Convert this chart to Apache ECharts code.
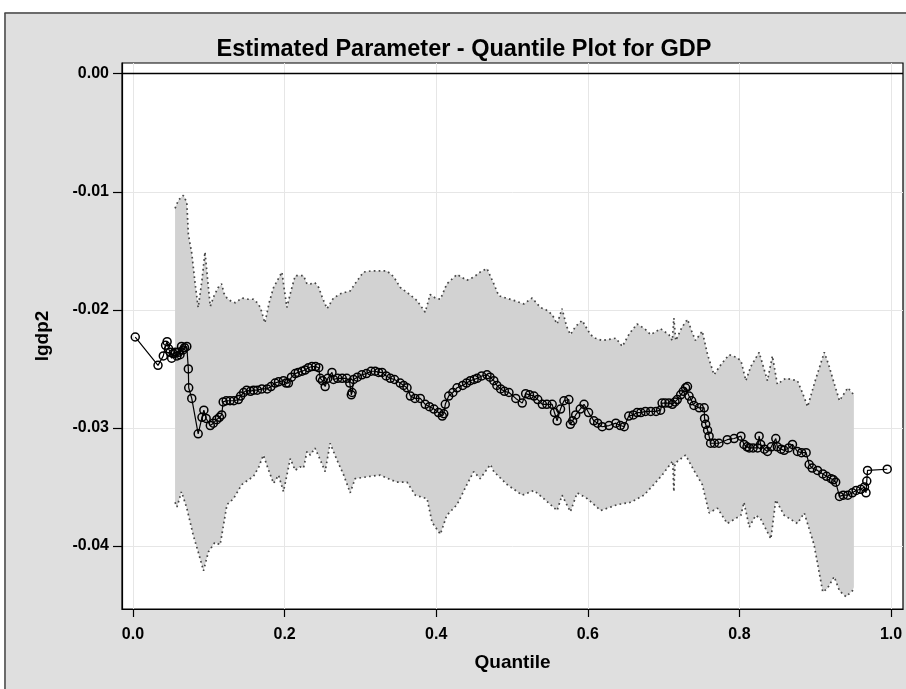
<!DOCTYPE html>
<html>
<head>
<meta charset="utf-8">
<script src="https://cdn.jsdelivr.net/npm/echarts@6/dist/echarts.min.js"></script>
<style>
html,body{margin:0;padding:0;background:#fff;}
#chart{width:906px;height:689px;}
</style>
</head>
<body>
<div id="chart"></div>
<script>
// ---- Data ----
const titleText = 'Estimated Parameter - Quantile Plot for GDP';
const xAxisTitle = 'Quantile';
const yAxisTitle = 'lgdp2';
const xTicks = [0.0, 0.2, 0.4, 0.6, 0.8, 1.0];
const yTicks = [0.00, -0.01, -0.02, -0.03, -0.04];

// Estimated parameter by quantile
const quantiles = [0.003,0.033,0.040,0.043,0.045,0.047,0.049,0.051,0.053,0.056,0.058,0.060,0.062,0.064,0.066,0.068,0.071,0.073,0.0735,0.0775,0.086,0.091,0.0935,0.0965,0.102,0.106,0.1105,0.114,0.117,0.119,0.123,0.128,0.133,0.139,0.142,0.146,0.150,0.155,0.159,0.164,0.170,0.177,0.182,0.1875,0.192,0.1985,0.202,0.205,0.209,0.214,0.218,0.223,0.227,0.2315,0.236,0.241,0.245,0.247,0.250,0.2535,0.257,0.2625,0.2645,0.270,0.276,0.282,0.286,0.288,0.289,0.291,0.296,0.302,0.308,0.314,0.3195,0.324,0.3285,0.334,0.3395,0.345,0.3525,0.357,0.3615,0.366,0.372,0.379,0.3855,0.391,0.397,0.403,0.408,0.410,0.412,0.4165,0.422,0.4275,0.435,0.440,0.445,0.450,0.454,0.460,0.467,0.471,0.476,0.480,0.485,0.490,0.496,0.505,0.5135,0.518,0.523,0.529,0.534,0.540,0.546,0.553,0.556,0.5595,0.564,0.5685,0.575,0.577,0.580,0.584,0.590,0.595,0.601,0.608,0.613,0.619,0.628,0.637,0.643,0.648,0.654,0.660,0.665,0.670,0.676,0.683,0.690,0.696,0.698,0.702,0.707,0.7115,0.715,0.718,0.7225,0.726,0.729,0.7315,0.7335,0.737,0.740,0.747,0.7535,0.754,0.7555,0.758,0.760,0.762,0.767,0.773,0.784,0.793,0.802,0.806,0.810,0.813,0.818,0.824,0.826,0.828,0.833,0.837,0.842,0.848,0.850,0.855,0.859,0.865,0.870,0.8765,0.882,0.888,0.892,0.896,0.903,0.910,0.915,0.921,0.924,0.927,0.932,0.937,0.943,0.949,0.954,0.960,0.965,0.967,0.968,0.969,0.995];
const estimates = [-0.0223,-0.0247,-0.0239,-0.0230,-0.0227,-0.0233,-0.0236,-0.0241,-0.0237,-0.0236,-0.0239,-0.0236,-0.0238,-0.0231,-0.0234,-0.0232,-0.0231,-0.0250,-0.0266,-0.0275,-0.0305,-0.0291,-0.0285,-0.0292,-0.0298,-0.0296,-0.0293,-0.0291,-0.0289,-0.0278,-0.0277,-0.0277,-0.0277,-0.0276,-0.0273,-0.0270,-0.0268,-0.0269,-0.0268,-0.0268,-0.0267,-0.0267,-0.0265,-0.0262,-0.0261,-0.0260,-0.0262,-0.0262,-0.0257,-0.0254,-0.0253,-0.0252,-0.0251,-0.0249,-0.0248,-0.0248,-0.0249,-0.0258,-0.0260,-0.0265,-0.0258,-0.0253,-0.0259,-0.0258,-0.0258,-0.0258,-0.0262,-0.0272,-0.0270,-0.0259,-0.0257,-0.0255,-0.0254,-0.0252,-0.0252,-0.0253,-0.0253,-0.0256,-0.0258,-0.0259,-0.0262,-0.0264,-0.0266,-0.0273,-0.0275,-0.0275,-0.0280,-0.0282,-0.0284,-0.0287,-0.0290,-0.0288,-0.0280,-0.0273,-0.0270,-0.0266,-0.0264,-0.0262,-0.0260,-0.0259,-0.0258,-0.0256,-0.0255,-0.0257,-0.0260,-0.0264,-0.0267,-0.0269,-0.0270,-0.0275,-0.0279,-0.0271,-0.0272,-0.0273,-0.0276,-0.0280,-0.0280,-0.0280,-0.0287,-0.0294,-0.0284,-0.0277,-0.0276,-0.0297,-0.0294,-0.0289,-0.0284,-0.0280,-0.0287,-0.0294,-0.0296,-0.0299,-0.0298,-0.0296,-0.0298,-0.0299,-0.0290,-0.0289,-0.0287,-0.0287,-0.0286,-0.0286,-0.0286,-0.0285,-0.0279,-0.0279,-0.0279,-0.0280,-0.0278,-0.0276,-0.0272,-0.0269,-0.0266,-0.0265,-0.0273,-0.0277,-0.0281,-0.0283,-0.0283,-0.0292,-0.0297,-0.0302,-0.0307,-0.0313,-0.0313,-0.0313,-0.0310,-0.0309,-0.0307,-0.0314,-0.0316,-0.0317,-0.0317,-0.0317,-0.0307,-0.0314,-0.0318,-0.0320,-0.0316,-0.0309,-0.0316,-0.0318,-0.0319,-0.0317,-0.0314,-0.0320,-0.0321,-0.0321,-0.0331,-0.0334,-0.0336,-0.0339,-0.0341,-0.0343,-0.0344,-0.0346,-0.0358,-0.0357,-0.0357,-0.0355,-0.0353,-0.0352,-0.0350,-0.0355,-0.0345,-0.0336,-0.0335];

// Upper confidence limit
const upperX = [0.0555,0.060,0.0665,0.071,0.073,0.0775,0.082,0.086,0.091,0.095,0.099,0.102,0.107,0.1125,0.117,0.120,0.124,0.130,0.135,0.1435,0.152,0.159,0.164,0.168,0.174,0.180,0.1855,0.1965,0.199,0.203,0.208,0.214,0.225,0.2295,0.234,0.240,0.245,0.250,0.256,0.2645,0.275,0.2865,0.295,0.304,0.314,0.324,0.335,0.344,0.3525,0.363,0.3745,0.3855,0.392,0.399,0.4055,0.414,0.4275,0.4405,0.450,0.458,0.467,0.476,0.4825,0.492,0.5025,0.5155,0.5265,0.5375,0.545,0.553,0.5595,0.566,0.572,0.577,0.584,0.5925,0.6035,0.610,0.619,0.628,0.637,0.6455,0.655,0.665,0.675,0.683,0.696,0.707,0.7115,0.7135,0.716,0.724,0.7315,0.737,0.742,0.751,0.758,0.7665,0.776,0.7865,0.795,0.802,0.8085,0.815,0.826,0.837,0.8435,0.850,0.861,0.8765,0.883,0.890,0.900,0.912,0.918,0.923,0.932,0.943,0.951];
const upperY = [-0.0114,-0.0107,-0.0103,-0.0109,-0.0136,-0.0152,-0.0178,-0.0198,-0.0175,-0.0151,-0.0178,-0.0197,-0.0188,-0.0181,-0.0178,-0.0186,-0.0190,-0.0193,-0.0194,-0.0190,-0.0191,-0.0191,-0.0194,-0.0198,-0.0211,-0.0193,-0.0181,-0.0168,-0.0180,-0.0198,-0.0185,-0.0171,-0.0171,-0.0178,-0.0178,-0.0177,-0.0181,-0.0190,-0.0199,-0.0190,-0.0186,-0.0184,-0.0176,-0.0168,-0.0167,-0.0167,-0.0167,-0.0172,-0.0181,-0.0186,-0.0192,-0.0202,-0.0187,-0.0190,-0.0191,-0.0178,-0.0170,-0.0175,-0.0172,-0.0168,-0.0165,-0.0178,-0.0188,-0.0190,-0.0192,-0.0195,-0.0190,-0.0198,-0.0200,-0.0204,-0.0212,-0.0199,-0.0214,-0.0221,-0.0214,-0.0209,-0.0221,-0.0224,-0.0226,-0.0225,-0.0224,-0.0231,-0.0220,-0.0212,-0.0216,-0.0221,-0.0216,-0.0221,-0.0226,-0.0207,-0.0226,-0.0215,-0.0208,-0.0218,-0.0226,-0.0218,-0.0238,-0.0255,-0.0246,-0.0238,-0.0240,-0.0243,-0.0260,-0.0248,-0.0236,-0.0260,-0.0239,-0.0263,-0.0258,-0.0260,-0.0270,-0.0282,-0.0260,-0.0236,-0.0247,-0.0258,-0.0277,-0.0266,-0.0272];

// Lower confidence limit
const lowerX = [0.0555,0.058,0.064,0.071,0.0795,0.086,0.093,0.0995,0.108,0.115,0.120,0.124,0.1325,0.1435,0.159,0.166,0.172,0.179,0.1855,0.192,0.1985,0.2075,0.214,0.2205,0.225,0.2295,0.234,0.240,0.247,0.2535,0.260,0.269,0.278,0.2865,0.293,0.303,0.313,0.326,0.337,0.348,0.3615,0.3725,0.388,0.3945,0.4055,0.414,0.4275,0.4405,0.4495,0.458,0.4715,0.476,0.4935,0.5135,0.529,0.542,0.5595,0.566,0.577,0.586,0.5995,0.617,0.639,0.6565,0.674,0.687,0.698,0.712,0.7135,0.715,0.729,0.740,0.751,0.760,0.771,0.784,0.802,0.806,0.813,0.8215,0.828,0.8415,0.848,0.859,0.8765,0.8855,0.8985,0.910,0.916,0.925,0.932,0.9405,0.949,0.951];
const lowerY = [-0.0363,-0.0367,-0.0354,-0.0368,-0.0391,-0.0405,-0.0421,-0.0405,-0.0397,-0.0399,-0.0380,-0.0365,-0.0360,-0.0348,-0.0341,-0.0333,-0.0323,-0.0336,-0.0347,-0.0340,-0.0354,-0.0326,-0.0336,-0.0333,-0.0334,-0.0320,-0.0323,-0.0317,-0.0327,-0.0337,-0.0313,-0.0327,-0.0340,-0.0355,-0.0343,-0.0342,-0.0341,-0.0340,-0.0343,-0.0346,-0.0346,-0.0357,-0.0360,-0.0380,-0.0390,-0.0374,-0.0365,-0.0348,-0.0337,-0.0343,-0.0331,-0.0337,-0.0348,-0.0357,-0.0353,-0.0360,-0.0370,-0.0357,-0.0371,-0.0355,-0.0360,-0.0370,-0.0365,-0.0363,-0.0357,-0.0348,-0.0340,-0.0328,-0.0354,-0.0330,-0.0323,-0.0336,-0.0348,-0.0372,-0.0368,-0.0381,-0.0374,-0.0363,-0.0384,-0.0374,-0.0377,-0.0394,-0.0361,-0.0374,-0.0381,-0.0372,-0.0399,-0.0439,-0.0436,-0.0426,-0.0438,-0.0443,-0.0438,-0.0435];

const zip = (xs, ys) => xs.map((x, i) => [x, ys[i]]);

const chart = echarts.init(document.getElementById('chart'));
const FONT = '"Liberation Sans", Arial, sans-serif';

const option = {
  animation: false,
  backgroundColor: '#dfdfdf',
  graphic: [
    { type: 'rect', shape: { x: 0, y: 0, width: 906, height: 12 }, style: { fill: '#ffffff' }, silent: true },
    { type: 'rect', shape: { x: 0, y: 0, width: 4, height: 689 }, style: { fill: '#ffffff' }, silent: true },
    { type: 'line', shape: { x1: 4.5, y1: 13, x2: 906, y2: 13 }, style: { stroke: '#444', lineWidth: 1.5 }, silent: true },
    { type: 'line', shape: { x1: 5, y1: 13, x2: 5, y2: 689 }, style: { stroke: '#444', lineWidth: 1.5 }, silent: true }
  ],
  title: {
    text: titleText,
    left: 459,
    textAlign: 'center',
    top: 33,
    textStyle: { fontFamily: FONT, fontSize: 23.5, fontWeight: 'bold', color: '#000' }
  },
  grid: {
    left: 122, right: 3, top: 63, bottom: 80,
    show: true, backgroundColor: '#ffffff', borderColor: '#000', borderWidth: 1.2,
    containLabel: false
  },
  xAxis: {
    type: 'value',
    min: -0.0145, max: 1.0158,
    name: xAxisTitle,
    nameLocation: 'middle',
    nameGap: 44,
    nameTextStyle: { fontFamily: FONT, fontSize: 19, fontWeight: 'bold', color: '#000' },
    axisLine: { show: true, onZero: false, lineStyle: { color: '#000', width: 1.2 } },
    axisTick: { show: true, length: 8, lineStyle: { color: '#000', width: 1.2 }, customValues: xTicks },
    axisLabel: { customValues: xTicks, margin: 18, formatter: v => v.toFixed(1), fontFamily: FONT, fontSize: 16, fontWeight: 'bold', color: '#000' },
    splitLine: { show: true, lineStyle: { color: '#e6e6e6', width: 1 } }
  },
  yAxis: {
    type: 'value',
    min: -0.04534, max: 0.00091,
    name: yAxisTitle,
    nameLocation: 'middle',
    nameGap: 70,
    nameTextStyle: { fontFamily: FONT, fontSize: 19, fontWeight: 'bold', color: '#000' },
    axisLine: { show: true, onZero: false, lineStyle: { color: '#000', width: 1.2 } },
    axisTick: { show: true, length: 9, lineStyle: { color: '#000', width: 1.2 }, customValues: yTicks },
    axisLabel: { customValues: yTicks, margin: 13, formatter: v => v.toFixed(2), fontFamily: FONT, fontSize: 16, fontWeight: 'bold', color: '#000' },
    splitLine: { show: true, lineStyle: { color: '#e6e6e6', width: 1 } }
  },
  series: [
    {
      type: 'custom',
      name: 'band',
      silent: true,
      z: 1,
      data: [[0.5, -0.02]],
      renderItem: function (params, api) {
        const pts = [];
        for (let i = 0; i < upperX.length; i++) pts.push(api.coord([upperX[i], upperY[i]]));
        for (let i = lowerX.length - 1; i >= 0; i--) pts.push(api.coord([lowerX[i], lowerY[i]]));
        return { type: 'polygon', shape: { points: pts }, style: { fill: '#d2d2d2', stroke: null } };
      }
    },
    {
      type: 'line', name: 'upper', data: zip(upperX, upperY), showSymbol: false, silent: true, z: 2,
      lineStyle: { color: '#444', width: 1.7, type: [1.7, 3.2] }
    },
    {
      type: 'line', name: 'lower', data: zip(lowerX, lowerY), showSymbol: false, silent: true, z: 2,
      lineStyle: { color: '#444', width: 1.7, type: [1.7, 3.2] }
    },
    {
      type: 'line', name: 'estimate', data: zip(quantiles, estimates), z: 3,
      symbol: 'circle', symbolSize: 8, showAllSymbol: true,
      lineStyle: { color: '#000', width: 1.2 },
      itemStyle: { color: 'rgba(0,0,0,0)', borderColor: '#000', borderWidth: 1.5 },
      markLine: {
        silent: true, symbol: 'none', label: { show: false },
        lineStyle: { color: '#000', width: 1.3, type: 'solid' },
        data: [{ yAxis: 0 }]
      }
    }
  ]
};
chart.setOption(option);
</script>
</body>
</html>
